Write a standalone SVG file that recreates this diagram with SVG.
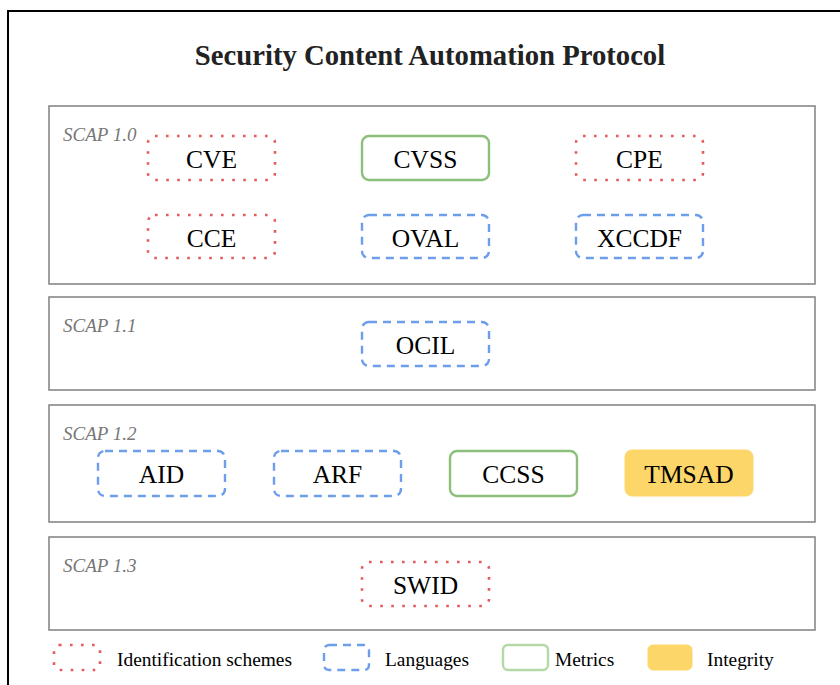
<svg xmlns="http://www.w3.org/2000/svg" width="840" height="685" viewBox="0 0 840 685">
<style>
.frame{fill:#fff;stroke:#000;stroke-width:2}
.sec{fill:#fff;stroke:#808080;stroke-width:1.5}
.title{font-family:"Liberation Serif",serif;font-weight:bold;font-size:28.7px;fill:#222;text-anchor:middle}
.slabel{font-family:"Liberation Serif",serif;font-style:italic;font-size:19px;fill:#777}
.lbl{font-family:"Liberation Serif",serif;font-size:25.5px;fill:#000;text-anchor:middle}
.leg{font-family:"Liberation Serif",serif;font-size:19.4px;fill:#000}
.id{fill:#fff;stroke:#e55b5b;stroke-width:2.6;stroke-dasharray:2.6 8.4}
.lang{fill:#fff;stroke:#6d9eeb;stroke-width:2.4;stroke-dasharray:8 6}
.met{fill:#fff;stroke:#8cc07a;stroke-width:2.4}
.int{fill:#fdd66a;stroke:#fdd66a;stroke-width:1}
</style>
<rect x="0" y="0" width="840" height="685" fill="#fff"/>
<rect class="frame" x="8" y="11" width="900" height="800"/>
<text class="title" x="430" y="65">Security Content Automation Protocol</text>

<g id="scap10">
<rect class="sec" x="49" y="106" width="766" height="178"/>
<text class="slabel" x="63" y="141">SCAP 1.0</text>
</g>
<g id="scap11">
<rect class="sec" x="49" y="297" width="766" height="93"/>
<text class="slabel" x="63" y="332">SCAP 1.1</text>
</g>
<g id="scap12">
<rect class="sec" x="49" y="405" width="766" height="117"/>
<text class="slabel" x="63" y="440">SCAP 1.2</text>
</g>
<g id="scap13">
<rect class="sec" x="49" y="537" width="766" height="93"/>
<text class="slabel" x="63" y="572">SCAP 1.3</text>
</g>

<g id="cve"><rect class="id" x="148" y="136" width="127" height="44" rx="7"/><text class="lbl" x="211.5" y="168">CVE</text></g>
<g id="cvss"><rect class="met" x="362" y="136" width="127" height="44" rx="7"/><text class="lbl" x="425.5" y="168">CVSS</text></g>
<g id="cpe"><rect class="id" x="576" y="136" width="127" height="44" rx="7"/><text class="lbl" x="639.5" y="168">CPE</text></g>
<g id="cce"><rect class="id" x="148" y="215" width="127" height="43" rx="7"/><text class="lbl" x="211.5" y="247">CCE</text></g>
<g id="oval"><rect class="lang" x="362" y="215" width="127" height="43" rx="7"/><text class="lbl" x="425.5" y="247">OVAL</text></g>
<g id="xccdf"><rect class="lang" x="576" y="215" width="127" height="43" rx="7"/><text class="lbl" x="639.5" y="247">XCCDF</text></g>

<g id="ocil"><rect class="lang" x="362" y="322" width="127" height="44" rx="7"/><text class="lbl" x="425.5" y="354">OCIL</text></g>

<g id="aid"><rect class="lang" x="98" y="451" width="127" height="45" rx="7"/><text class="lbl" x="161.5" y="483">AID</text></g>
<g id="arf"><rect class="lang" x="274" y="451" width="127" height="45" rx="7"/><text class="lbl" x="337.5" y="483">ARF</text></g>
<g id="ccss"><rect class="met" x="450" y="451" width="127" height="45" rx="7"/><text class="lbl" x="513.5" y="483">CCSS</text></g>
<g id="tmsad"><rect class="int" x="625" y="450" width="128" height="46" rx="7"/><text class="lbl" x="689" y="483">TMSAD</text></g>

<g id="swid"><rect class="id" x="362" y="562" width="127" height="44" rx="7"/><text class="lbl" x="425.5" y="594">SWID</text></g>

<g id="legend">
<rect class="id" x="54" y="645" width="46" height="25" rx="5"/>
<text class="leg" x="117" y="666">Identification schemes</text>
<rect class="lang" x="324" y="645" width="45" height="25" rx="5"/>
<text class="leg" x="385" y="666">Languages</text>
<rect class="met" x="503" y="645" width="45" height="25" rx="5" style="stroke:#b5d9a6"/>
<text class="leg" x="555" y="666">Metrics</text>
<rect class="int" x="648" y="645" width="44" height="25" rx="5"/>
<text class="leg" x="707" y="666">Integrity</text>
</g>
<g id="connectors"/>
</svg>
